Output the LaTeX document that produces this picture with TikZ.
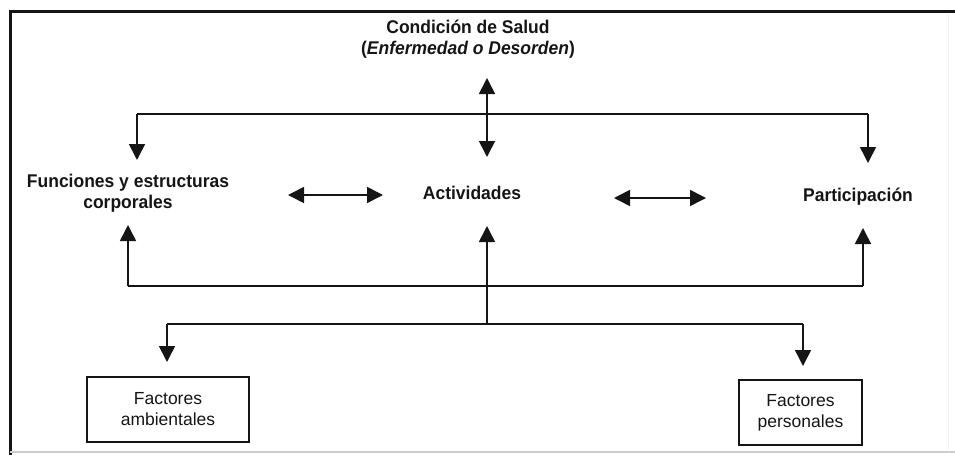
\documentclass[tikz,border=0pt]{standalone}
\usepackage{fontspec}
\setmainfont{Liberation Sans}
\newfontfamily\lblfont[FakeStretch=0.95]{Liberation Sans}
\usetikzlibrary{arrows.meta}
\definecolor{ink}{HTML}{151515}
\tikzset{
  lbl/.style={font=\lblfont\fontsize{18.4}{21.5}\selectfont\bfseries, text=ink, align=center, inner sep=0pt},
  boxnode/.style={draw=ink, line width=1.6pt, font=\fontsize{17.5}{21}\selectfont, text=ink, align=center, inner sep=0pt},
  conn/.style={draw=ink, line width=1.6pt},
  arr/.style={conn, -{Triangle[length=16pt,width=16pt]}},
  darr/.style={conn, {Triangle[length=16pt,width=16pt]}-{Triangle[length=16pt,width=16pt]}},
}
\begin{document}
\begin{tikzpicture}[x=1pt,y=-1pt]
\useasboundingbox (0,0) rectangle (955,460);
% frame
\draw[ink, line width=3pt] (10,455) -- (10,12) -- (955,12);
\draw[black!20, line width=1.2pt] (10,452) -- (955,452);
\draw[black!6, line width=1pt] (948,14) -- (948,452);

% nodes
\node[lbl] (cond) at (468,39) {Condición de Salud\\(\textit{Enfermedad o Desorden})};
\node[lbl] (func) at (128,193) {Funciones y estructuras\\corporales};
\node[lbl] (act) at (472,193) {Actividades};
\node[lbl] (part) at (858,197) {Participación};
\node[boxnode, minimum width=162pt, minimum height=65pt] (amb) at (168,409.5) {Factores\\ambientales};
\node[boxnode, minimum width=123pt, minimum height=65pt] (pers) at (800.5,412.5) {Factores\\personales};

% coordinates
\coordinate (ct) at (487,78);
\coordinate (cb) at (487,157);
\coordinate (tl) at (137,114);
\coordinate (tr) at (868,114);
\coordinate (tlTip) at (137,160);
\coordinate (trTip) at (868,163);
\coordinate (h1a) at (288,195);
\coordinate (h1b) at (383,195);
\coordinate (h2a) at (614,198);
\coordinate (h2b) at (706,198);
\coordinate (bl) at (128,286);
\coordinate (br) at (863,286);
\coordinate (blTip) at (128,225);
\coordinate (brTip) at (863,228);
\coordinate (aTip) at (487,226);
\coordinate (aBot) at (487,324);
\coordinate (ll) at (167,324);
\coordinate (lr) at (803,324);
\coordinate (llTip) at (167,362);
\coordinate (lrTip) at (803,366);

% connectors
\draw[darr] (ct) -- (cb);
\draw[conn] (tl) -- (tr);
\draw[arr] (tl) -- (tlTip);
\draw[arr] (tr) -- (trTip);
\draw[darr] (h1a) -- (h1b);
\draw[darr] (h2a) -- (h2b);
\draw[arr] (bl) -- (blTip);
\draw[arr] (br) -- (brTip);
\draw[conn] (bl) -- (br);
\draw[arr] (aBot) -- (aTip);
\draw[conn] (ll) -- (lr);
\draw[arr] (ll) -- (llTip);
\draw[arr] (lr) -- (lrTip);
\end{tikzpicture}
\end{document}
